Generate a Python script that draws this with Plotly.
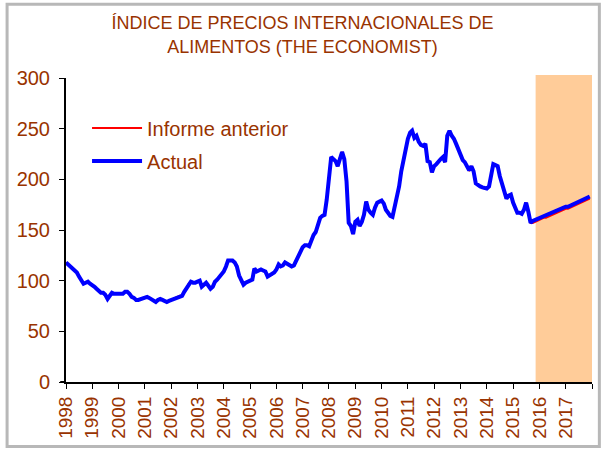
import pandas as pd
import plotly.graph_objects as go

# ---- Data (monthly) ----
historico = [
    # 1998
    118, 116, 114, 112, 110, 108, 104, 101, 97, 98, 99, 97,
    # 1999
    96, 94, 92, 90, 88, 88, 86, 82, 86, 88, 87, 87,
    # 2000
    87, 87, 87, 89, 89, 87, 84, 83, 81, 81, 82, 82,
    # 2001
    83, 84, 83, 82, 80, 79, 81, 82, 81, 80, 79, 80,
    # 2002
    81, 82, 83, 84, 85, 85, 89, 93, 97, 99, 98, 98,
    # 2003
    99, 100, 94, 96, 98, 95, 92, 94, 99, 101, 104, 106,
    # 2004
    109, 114, 120, 120, 120, 118, 114, 105, 99, 96, 98, 99,
    # 2005
    100, 101, 112, 109, 110, 111, 110, 109, 104, 105, 106, 108,
    # 2006
    111, 116, 114, 115, 118, 117, 116, 114, 115, 119, 125, 129,
    # 2007
    133, 135, 135, 134, 140, 145, 148, 155, 162, 164, 165, 180,
    # 2008
    200, 222, 220, 218, 213, 222, 227, 220, 198, 157, 154, 146,
    # 2009
    158, 160, 154, 158, 165, 178, 170, 167, 165, 172, 177, 178,
    # 2010
    179, 176, 170, 167, 164, 163, 172, 183, 193, 208, 220, 228,
    # 2011
    240, 246, 248, 241, 243, 237, 234, 233, 235, 218, 217, 207,
    # 2012
    213, 215, 218, 220, 222, 217, 243, 248, 243, 240, 235, 230,
    # 2013
    223, 219, 217, 212, 209, 213, 208, 196, 194, 193, 192, 191,
    # 2014
    191, 193, 203, 215, 214, 213, 203, 196, 190, 181, 184, 185,
    # 2015 (Jan-Sep)
    177, 172, 167, 167, 166, 170, 177, 168, 157,
]

# Forecast, Oct 2015 - Dec 2017
proyeccion_actual = [
    159, 160, 161,
    162, 163, 164, 164, 165, 166, 167, 168, 169, 170, 171, 172,
    173, 173, 174, 175, 176, 177, 178, 179, 180, 181, 182, 183,
]
proyeccion_anterior = [
    157, 158, 159,
    160, 161, 162, 162, 163, 164, 165, 166, 167, 168, 169, 170,
    171, 171, 172, 173, 174, 175, 176, 177, 178, 179, 180, 181,
]

actual = historico + proyeccion_actual
informe_anterior = historico + proyeccion_anterior
fechas = pd.date_range("1998-01-01", periods=len(actual), freq="MS")

anios = list(range(1998, 2019))
tick_vals = [f"{a}-01-01" for a in anios]
tick_text = [str(a) for a in anios[:-1]] + [""]

inicio_proyeccion = "2015-11-10"
fin_eje = "2018-01-01"

TXT = "#993300"
FONT = "Liberation Sans, Arial, sans-serif"

fig = go.Figure()
fig.add_trace(go.Scatter(
    x=fechas, y=informe_anterior, mode="lines", name="Informe anterior",
    legendgroup="a", line=dict(color="#FF0000", width=2),
))
fig.add_trace(go.Scatter(
    x=fechas, y=actual, mode="lines", name="Actual",
    legendgroup="b", line=dict(color="#0000FF", width=4),
))

fig.update_layout(
    width=605, height=450,
    margin=dict(l=66, r=13, t=78, b=68),
    paper_bgcolor="white", plot_bgcolor="white",
    font=dict(family=FONT, color=TXT, size=19),
    title=dict(
        text="ÍNDICE DE PRECIOS INTERNACIONALES DE<br>ALIMENTOS (THE ECONOMIST)",
        x=0.5, xref="container", xanchor="center",
        y=0.935, yref="container", yanchor="top",
        font=dict(family=FONT, color=TXT, size=18),
    ),
    legend=dict(
        x=0.04, y=0.9, xanchor="left", yanchor="top",
        bgcolor="rgba(0,0,0,0)", font=dict(family=FONT, color=TXT, size=20),
        tracegroupgap=4, itemwidth=50,
    ),
    xaxis=dict(
        type="date", range=["1998-01-01", fin_eje],
        tickmode="array", tickvals=tick_vals, ticktext=tick_text,
        tickangle=-90, ticks="outside", ticklen=5, tickcolor="black",
        showline=True, linecolor="black", linewidth=2,
        showgrid=False, zeroline=False,
        tickfont=dict(family=FONT, color=TXT, size=19),
    ),
    yaxis=dict(
        range=[0, 300], tickmode="linear", tick0=0, dtick=50,
        ticks="outside", ticklen=5, tickcolor="black",
        showline=True, linecolor="black", linewidth=2,
        showgrid=False, zeroline=False, ticklabelstandoff=5,
        tickfont=dict(family=FONT, color=TXT, size=20),
    ),
    shapes=[
        dict(type="rect", xref="x", yref="paper",
             x0=inicio_proyeccion, x1=fin_eje, y0=0, y1=1.01,
             fillcolor="#FFCC99", line=dict(width=0), layer="below"),
        dict(type="rect", xref="paper", yref="paper",
             x0=-0.112, x1=1.014, y0=-0.212, y1=1.243,
             line=dict(color="#B8B8B8", width=3), layer="below"),
        dict(type="line", xref="paper", yref="paper",
             x0=-0.011, x1=0, y0=0, y1=0,
             line=dict(color="black", width=2)),
    ],
)

fig.write_html("out.html", config={"displayModeBar": False},
               post_script="document.body.style.margin='0';")
